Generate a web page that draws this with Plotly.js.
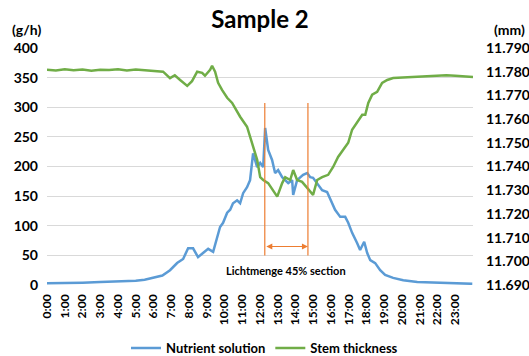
<!DOCTYPE html>
<html>
<head>
<meta charset="utf-8">
<script src="https://cdn.plot.ly/plotly-3.0.1.min.js"></script>
<style>html,body{margin:0;padding:0;background:#fff;}#chart{width:529px;height:356px;}</style>
</head>
<body>
<div id="chart"></div>
<script>
// Nutrient solution (g/h), hours of day
const nutrientHours = [0,1,2,3,4,5,5.5,6,6.5,6.93,7.33,7.67,7.95,8.23,8.51,8.79,9.08,9.36,9.58,9.75,9.92,10.15,10.32,10.48,10.71,10.88,11.05,11.27,11.44,11.61,11.84,12.01,12.18,12.29,12.46,12.68,12.85,13.02,13.25,13.42,13.59,13.81,13.87,14.09,14.26,14.43,14.66,14.83,14.99,15.22,15.5,15.78,16.07,16.23,16.52,16.8,16.97,17.19,17.47,17.64,17.87,18.04,18.21,18.49,18.77,19.05,19.5,20.07,20.86,21.6,22.5,23.96];
const nutrientValues = [3,3,4,5,6,7,9,12,16,25,37,44,62,62,47,54,61,56,78,98,105,122,127,138,143,138,155,165,177,222,199,206,199,265,228,211,189,194,182,177,172,177,152,177,182,186,189,182,181,172,160,157,138,127,115,115,105,88,71,59,73,54,42,37,25,17,12,8,5,4,3,2];

// Stem thickness (mm), hours of day
const stemHours = [0,0.5,1,1.5,2,2.5,3,3.5,4,4.5,5,5.5,6.1,6.54,6.93,7.2,7.5,7.9,8.17,8.46,8.74,8.9,9.19,9.3,9.47,9.64,9.86,10.15,10.43,10.65,10.88,11.27,11.56,11.84,12.01,12.18,12.46,12.74,12.97,13.25,13.42,13.7,13.87,14.09,14.37,14.66,14.99,15.22,15.5,15.84,16.12,16.4,16.69,16.97,17.19,17.47,17.76,17.93,18.1,18.32,18.6,18.88,19.17,19.5,20,20.5,21,21.5,22,22.5,23,23.5,24];
const stemValues = [11.7808,11.7805,11.7810,11.7806,11.7809,11.7804,11.7808,11.7807,11.7810,11.7805,11.7809,11.7806,11.7803,11.7800,11.7773,11.7785,11.7765,11.7740,11.7760,11.7800,11.7795,11.7783,11.7808,11.7825,11.7800,11.7753,11.7723,11.7690,11.7668,11.7638,11.7610,11.7568,11.7500,11.7428,11.7355,11.7343,11.7330,11.7300,11.7273,11.7330,11.7355,11.7343,11.7385,11.7343,11.7335,11.7310,11.7280,11.7343,11.7355,11.7365,11.7398,11.7440,11.7470,11.7500,11.7555,11.7588,11.7618,11.7618,11.7668,11.7703,11.7715,11.7753,11.7765,11.7773,11.7775,11.7774,11.7778,11.7780,11.7782,11.7785,11.7783,11.7779,11.7778];

const tickHours = [0,1,2,3,4,5,6,7,8,9,10,11,12,13,14,15,16,17,18,19,20,21,22,23];
const tickLabels = ["0:00","1:00","2:00","3:00","4:00","5:00","6:00","7:00","8:00","9:00","10:00","11:00","12:00","13:00","14:00","15:00","16:00","17:00","18:00","19:00","20:00","21:00","22:00","23:00"];

// Lichtmenge 45% section (hours) and marker levels (g/h)
const sectionBounds = [12.27, 14.70];
const sectionLineRange = [50, 307];
const sectionArrowLevel = 65;
const sectionLabel = "Lichtmenge 45% section";
const sectionLabelLevel = 25;

const FONT = "Lato, 'Open Sans', sans-serif";
const orange = "#ED7D31";

const traces = [
  {x: nutrientHours, y: nutrientValues, name: "Nutrient solution", type: "scatter", mode: "lines",
   line: {color: "#5B9BD5", width: 2.5}, yaxis: "y"},
  {x: stemHours, y: stemValues, name: "Stem thickness", type: "scatter", mode: "lines",
   line: {color: "#70AD47", width: 2.5}, yaxis: "y2"}
];

const shapes = sectionBounds.map(h => ({
  type: "line", xref: "x", yref: "y", x0: h, x1: h, y0: sectionLineRange[0], y1: sectionLineRange[1],
  line: {color: orange, width: 1.2}
}));

const layout = {
  width: 529, height: 356,
  margin: {l: 47, r: 56, t: 48, b: 71},
  paper_bgcolor: "#fff", plot_bgcolor: "#fff",
  font: {family: FONT, size: 12, color: "#000"},
  title: {text: "Sample 2", x: 0.5, xref: "paper", xanchor: "center", y: 0.945, yanchor: "middle",
          font: {family: FONT, size: 24, weight: "bold", color: "#000"}},
  xaxis: {range: [0, 24], tickmode: "array", tickvals: tickHours, ticktext: tickLabels, tickangle: -90,
          showgrid: false, zeroline: false, showline: false, ticks: "", ticklen: 0, ticklabelstandoff: 6, fixedrange: true,
          tickfont: {family: FONT, size: 12, weight: "bold", color: "#000"}},
  yaxis: {range: [0, 400], dtick: 50, showgrid: true, gridcolor: "#D9D9D9", gridwidth: 1, zeroline: false,
          showline: false, ticks: "", ticklen: 0, ticklabelstandoff: 8,
          tickfont: {family: FONT, size: 14, weight: "bold", color: "#000"}},
  yaxis2: {range: [11.69, 11.79], dtick: 0.01, tickformat: ".3f", overlaying: "y", side: "right",
           showgrid: false, zeroline: false, showline: false, ticks: "", ticklen: 0, ticklabelstandoff: 12,
           tickfont: {family: FONT, size: 14, weight: "bold", color: "#000"}},
  showlegend: true,
  legend: {orientation: "h", x: 0.5, xanchor: "center", xref: "container", y: 0.022, yref: "container", yanchor: "middle",
           font: {family: FONT, size: 13, weight: "bold", color: "#000"}, itemwidth: 30, tracegroupgap: 0},
  shapes: shapes,
  annotations: [
    {text: "(g/h)", xref: "paper", yref: "paper", x: -0.087, y: 1.076, xanchor: "left", yanchor: "middle", showarrow: false,
     font: {family: FONT, size: 14, weight: "bold"}},
    {text: "(mm)", xref: "paper", yref: "paper", x: 1.045, y: 1.076, xanchor: "left", yanchor: "middle", showarrow: false,
     font: {family: FONT, size: 14, weight: "bold"}},
    {text: "", xref: "x", yref: "y", x: sectionBounds[1], y: sectionArrowLevel, axref: "x", ayref: "y",
     ax: sectionBounds[0], ay: sectionArrowLevel, showarrow: true, arrowhead: 2, arrowside: "end+start",
     arrowsize: 1, arrowwidth: 1.2, arrowcolor: orange, standoff: 0, startstandoff: 0},
    {text: sectionLabel, xref: "x", yref: "y", x: (sectionBounds[0] + sectionBounds[1]) / 2, y: sectionLabelLevel,
     showarrow: false, xanchor: "center", yanchor: "middle", font: {family: FONT, size: 11, weight: "bold", color: "#000"}}
  ]
};

Plotly.newPlot("chart", traces, layout, {displayModeBar: false, staticPlot: true});
</script>
</body>
</html>
